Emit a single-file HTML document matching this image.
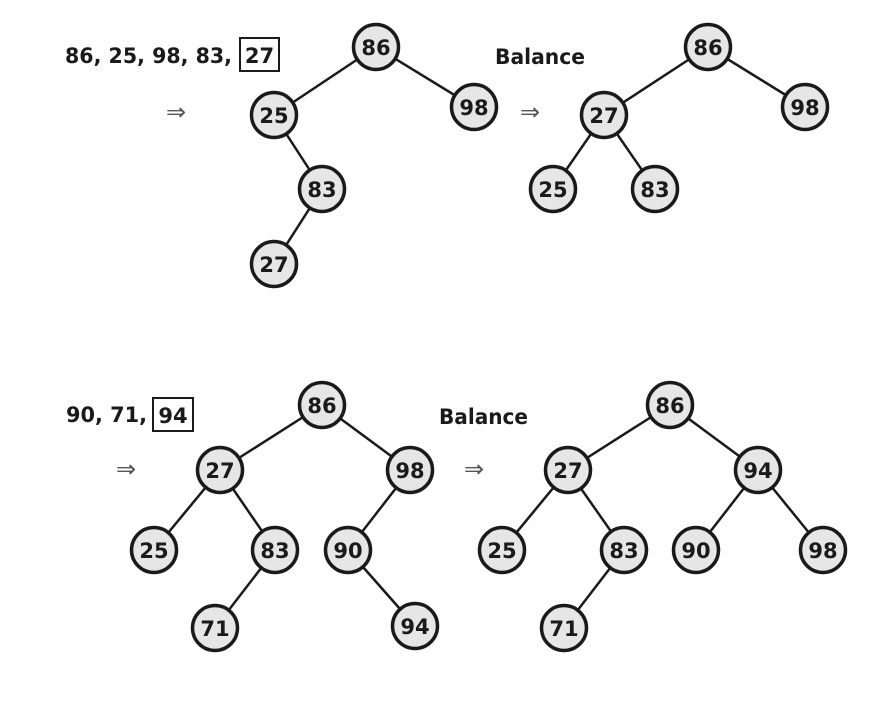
<!DOCTYPE html>
<html><head><style>html,body{margin:0;padding:0;background:#fff}</style></head><body>
<svg width="883" height="702" viewBox="0 0 883 702" xmlns="http://www.w3.org/2000/svg" font-family="'DejaVu Sans','Liberation Sans',sans-serif" font-weight="bold">
<g stroke="#1a1a1a" stroke-width="2.5">
<line x1="376" y1="47" x2="274" y2="115"/><line x1="376" y1="47" x2="474" y2="107"/><line x1="274" y1="115" x2="322" y2="189"/><line x1="322" y1="189" x2="274" y2="264"/>
<line x1="708" y1="47" x2="604" y2="115"/><line x1="708" y1="47" x2="805" y2="107"/><line x1="604" y1="115" x2="553" y2="189"/><line x1="604" y1="115" x2="655" y2="189"/>
<line x1="322" y1="405" x2="220" y2="470"/><line x1="322" y1="405" x2="410" y2="470"/><line x1="220" y1="470" x2="154" y2="550"/><line x1="220" y1="470" x2="275" y2="550"/><line x1="410" y1="470" x2="348" y2="550"/><line x1="275" y1="550" x2="215" y2="628"/><line x1="348" y1="550" x2="415" y2="626"/>
<line x1="670" y1="405" x2="568" y2="470"/><line x1="670" y1="405" x2="758" y2="470"/><line x1="568" y1="470" x2="502" y2="550"/><line x1="568" y1="470" x2="624" y2="550"/><line x1="758" y1="470" x2="696" y2="550"/><line x1="758" y1="470" x2="823" y2="550"/><line x1="624" y1="550" x2="564" y2="628"/>
</g>
<g fill="#e6e6e6" stroke="#1a1a1a" stroke-width="3.5">
<circle cx="376" cy="47" r="22.5"/><circle cx="274" cy="115" r="22.5"/><circle cx="474" cy="107" r="22.5"/><circle cx="322" cy="189" r="22.5"/><circle cx="274" cy="264" r="22.5"/>
<circle cx="708" cy="47" r="22.5"/><circle cx="604" cy="115" r="22.5"/><circle cx="805" cy="107" r="22.5"/><circle cx="553" cy="189" r="22.5"/><circle cx="655" cy="189" r="22.5"/>
<circle cx="322" cy="405" r="22.5"/><circle cx="220" cy="470" r="22.5"/><circle cx="410" cy="470" r="22.5"/><circle cx="154" cy="550" r="22.5"/><circle cx="275" cy="550" r="22.5"/><circle cx="348" cy="550" r="22.5"/><circle cx="215" cy="628" r="22.5"/><circle cx="415" cy="626" r="22.5"/>
<circle cx="670" cy="405" r="22.5"/><circle cx="568" cy="470" r="22.5"/><circle cx="758" cy="470" r="22.5"/><circle cx="502" cy="550" r="22.5"/><circle cx="624" cy="550" r="22.5"/><circle cx="696" cy="550" r="22.5"/><circle cx="823" cy="550" r="22.5"/><circle cx="564" cy="628" r="22.5"/>
</g>
<g font-size="21" fill="#1a1a1a" text-anchor="middle">
<text x="376" y="55">86</text><text x="274" y="123">25</text><text x="474" y="115">98</text><text x="322" y="197">83</text><text x="274" y="272">27</text>
<text x="708" y="55">86</text><text x="604" y="123">27</text><text x="805" y="115">98</text><text x="553" y="197">25</text><text x="655" y="197">83</text>
<text x="322" y="413">86</text><text x="220" y="478">27</text><text x="410" y="478">98</text><text x="154" y="558">25</text><text x="275" y="558">83</text><text x="348" y="558">90</text><text x="215" y="636">71</text><text x="415" y="634">94</text>
<text x="670" y="413">86</text><text x="568" y="478">27</text><text x="758" y="478">94</text><text x="502" y="558">25</text><text x="624" y="558">83</text><text x="696" y="558">90</text><text x="823" y="558">98</text><text x="564" y="636">71</text>
</g>
<g font-size="21" fill="#1a1a1a">
<text x="65" y="63" textLength="167" lengthAdjust="spacingAndGlyphs">86, 25, 98, 83,</text>
<rect x="240" y="38" width="39" height="33" fill="none" stroke="#1a1a1a" stroke-width="2"/>
<text x="259.5" y="63" text-anchor="middle">27</text>
<text x="495" y="64" textLength="90" lengthAdjust="spacingAndGlyphs">Balance</text>
<text x="66" y="422" textLength="81" lengthAdjust="spacingAndGlyphs">90, 71,</text>
<rect x="153" y="398" width="40" height="33" fill="none" stroke="#1a1a1a" stroke-width="2"/>
<text x="173" y="423" text-anchor="middle">94</text>
<text x="439" y="424" textLength="89" lengthAdjust="spacingAndGlyphs">Balance</text>
</g>
<g font-size="24" fill="#555" font-weight="normal" font-family="'DejaVu Sans',sans-serif">
<text x="166" y="120">⇒</text><text x="520" y="120">⇒</text>
<text x="116" y="477">⇒</text><text x="464" y="477">⇒</text>
</g>
</svg>
</body></html>
